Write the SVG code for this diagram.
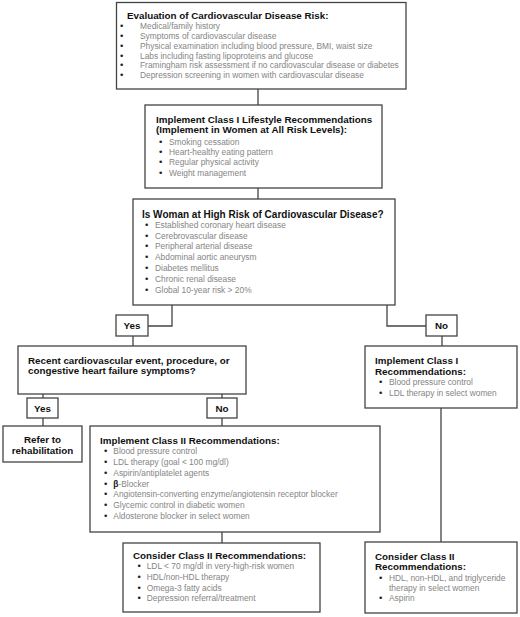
<svg xmlns="http://www.w3.org/2000/svg" width="520" height="617" viewBox="0 0 520 617">
<style>
.box{fill:#fff;stroke:#444;stroke-width:1.3}
.con{fill:none;stroke:#444;stroke-width:1.3}
.h{font-family:"Liberation Sans",Arial,sans-serif;font-weight:bold;font-size:9.8px;fill:#111}
.b{font-family:"Liberation Sans",Arial,sans-serif;font-size:8.4px;fill:#858585}
.d{font-family:"Liberation Sans",Arial,sans-serif;font-size:9.5px;fill:#222}
.c{text-anchor:middle}
</style>
<rect width="520" height="617" fill="#fff"/>
<g id="connectors">
<path class="con" d="M258 89V105M258 188V199M172 305V326H148M387 305V326H426M133 336V346M442 336V346M43 394V398M222 394V398M43 418V426M222 418V426M222 532V543M441 408V542"/>
</g>
<g id="evaluation">
<rect class="box" x="116.5" y="2.5" width="289.5" height="86.5"/>
<text class="h" x="127" y="19.2">Evaluation of Cardiovascular Disease Risk:</text>
<g class="d"><text x="120" y="28.8">•</text><text x="120" y="38.7">•</text><text x="120" y="48.6">•</text><text x="120" y="58.5">•</text><text x="120" y="68.4">•</text><text x="120" y="78.3">•</text></g>
<text class="b" x="140" y="28.8">Medical/family history</text>
<text class="b" x="140" y="38.7">Symptoms of cardiovascular disease</text>
<text class="b" x="140" y="48.6">Physical examination including blood pressure, BMI, waist size</text>
<text class="b" x="140" y="58.5">Labs including fasting lipoproteins and glucose</text>
<text class="b" x="140" y="68.4">Framingham risk assessment if no cardiovascular disease or diabetes</text>
<text class="b" x="140" y="78.3">Depression screening in women with cardiovascular disease</text>
</g>
<g id="lifestyle">
<rect class="box" x="145" y="105" width="237" height="83"/>
<text class="h" x="156" y="122.5">Implement Class I Lifestyle Recommendations</text>
<text class="h" x="156" y="132.5">(Implement in Women at All Risk Levels):</text>
<g class="d"><text x="159" y="144.7">•</text><text x="159" y="155">•</text><text x="159" y="165.3">•</text><text x="159" y="175.6">•</text></g>
<text class="b" x="169" y="144.7">Smoking cessation</text>
<text class="b" x="169" y="155">Heart-healthy eating pattern</text>
<text class="b" x="169" y="165.3">Regular physical activity</text>
<text class="b" x="169" y="175.6">Weight management</text>
</g>
<g id="highrisk">
<rect class="box" x="133" y="199" width="262" height="106"/>
<text class="h" x="142" y="217.5" style="font-size:10px">Is Woman at High Risk of Cardiovascular Disease?</text>
<g class="d"><text x="145" y="227.8">•</text><text x="145" y="238.6">•</text><text x="145" y="249.4">•</text><text x="145" y="260.2">•</text><text x="145" y="271">•</text><text x="145" y="281.8">•</text><text x="145" y="292.6">•</text></g>
<text class="b" x="155" y="227.8">Established coronary heart disease</text>
<text class="b" x="155" y="238.6">Cerebrovascular disease</text>
<text class="b" x="155" y="249.4">Peripheral arterial disease</text>
<text class="b" x="155" y="260.2">Abdominal aortic aneurysm</text>
<text class="b" x="155" y="271">Diabetes mellitus</text>
<text class="b" x="155" y="281.8">Chronic renal disease</text>
<text class="b" x="155" y="292.6">Global 10-year risk &gt; 20%</text>
</g>
<g id="yes1">
<rect class="box" x="116" y="315" width="32" height="21"/>
<text class="h c" x="132" y="329.3">Yes</text>
</g>
<g id="no1">
<rect class="box" x="426" y="315" width="31" height="21"/>
<text class="h c" x="441.5" y="329.3">No</text>
</g>
<g id="recent">
<rect class="box" x="18" y="346" width="228" height="48"/>
<text class="h" x="28" y="364">Recent cardiovascular event, procedure, or</text>
<text class="h" x="28" y="374">congestive heart failure symptoms?</text>
</g>
<g id="classI">
<rect class="box" x="365" y="346" width="152" height="62"/>
<text class="h" x="375" y="363.5">Implement Class I</text>
<text class="h" x="375" y="374.5">Recommendations:</text>
<g class="d"><text x="379" y="385.3">•</text><text x="379" y="395.5">•</text></g>
<text class="b" x="389" y="385.3">Blood pressure control</text>
<text class="b" x="389" y="395.5">LDL therapy in select women</text>
</g>
<g id="yes2">
<rect class="box" x="27" y="398" width="31" height="20"/>
<text class="h c" x="42.5" y="411.5">Yes</text>
</g>
<g id="no2">
<rect class="box" x="207" y="398" width="30" height="20"/>
<text class="h c" x="222" y="411.5">No</text>
</g>
<g id="refer">
<rect class="box" x="3" y="426" width="79" height="36"/>
<text class="h c" x="42.5" y="442.5">Refer to</text>
<text class="h c" x="42.5" y="453.5">rehabilitation</text>
</g>
<g id="classII">
<rect class="box" x="90" y="426" width="290" height="106"/>
<text class="h" x="100" y="443.5">Implement Class II Recommendations:</text>
<g class="d"><text x="104" y="454">•</text><text x="104" y="465">•</text><text x="104" y="476">•</text><text x="104" y="486.5">•</text><text x="104" y="497">•</text><text x="104" y="508">•</text><text x="104" y="519">•</text></g>
<text class="b" x="113.3" y="454">Blood pressure control</text>
<text class="b" x="113.3" y="465">LDL therapy (goal &lt; 100 mg/dl)</text>
<text class="b" x="113.3" y="476">Aspirin/antiplatelet agents</text>
<text class="b" x="113.3" y="486.5"><tspan style="fill:#111;font-weight:bold">β</tspan>-Blocker</text>
<text class="b" x="113.3" y="497">Angiotensin-converting enzyme/angiotensin receptor blocker</text>
<text class="b" x="113.3" y="508">Glycemic control in diabetic women</text>
<text class="b" x="113.3" y="519">Aldosterone blocker in select women</text>
</g>
<g id="considerII">
<rect class="box" x="123" y="543" width="197" height="69"/>
<text class="h" x="133" y="559">Consider Class II Recommendations:</text>
<g class="d"><text x="137.5" y="569.2">•</text><text x="137.5" y="579.9">•</text><text x="137.5" y="590.6">•</text><text x="137.5" y="601.3">•</text></g>
<text class="b" x="146.7" y="569.2">LDL &lt; 70 mg/dl in very-high-risk women</text>
<text class="b" x="146.7" y="579.9">HDL/non-HDL therapy</text>
<text class="b" x="146.7" y="590.6">Omega-3 fatty acids</text>
<text class="b" x="146.7" y="601.3">Depression referral/treatment</text>
</g>
<g id="considerIIright">
<rect class="box" x="365" y="542" width="152" height="71"/>
<text class="h" x="375" y="559.5">Consider Class II</text>
<text class="h" x="375" y="570">Recommendations:</text>
<g class="d"><text x="379" y="580.5">•</text><text x="379" y="601">•</text></g>
<text class="b" x="389" y="580.5">HDL, non-HDL, and triglyceride</text>
<text class="b" x="389" y="590.5">therapy in select women</text>
<text class="b" x="389" y="601">Aspirin</text>
</g>
</svg>
